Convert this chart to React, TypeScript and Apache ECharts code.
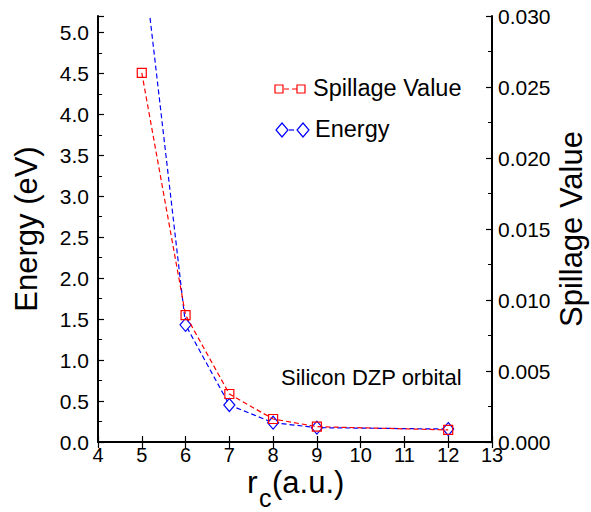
import React, { useEffect, useRef } from "react";
import * as echarts from "echarts";

const rc = [5, 6, 7, 8, 9, 12];
const energy = [6.05, 1.43, 0.452, 0.236, 0.175, 0.158];
const spillage = [0.026, 0.00894, 0.00338, 0.00162, 0.00108, 0.00085];
const legendNames = ["Spillage Value", "Energy"];
const annotation = "Silicon DZP orbital";
const xNameParts = ["r", "c", "(a.u.)"];

const FONT = "'Liberation Sans', Arial, sans-serif";
const RED = "#ff0000";
const BLUE = "#0000ff";

export default function App() {
  const ref = useRef<HTMLDivElement>(null);
  useEffect(() => {
    if (!ref.current) return;
    const chart = echarts.init(ref.current, undefined, { renderer: "svg" });
    const axisLine = { show: true, lineStyle: { color: "#000", width: 2 } };
    chart.setOption({
      animation: false,
      backgroundColor: "#fff",
      textStyle: { fontFamily: FONT },
      grid: { left: 98, top: 16, right: 99, bottom: 70, containLabel: false, outerBoundsMode: "none" },
      xAxis: [
        {
          type: "value",
          min: 4,
          max: 13,
          interval: 1,
          position: "bottom",
          axisLine,
          axisTick: { show: true, inside: true, length: 6, lineStyle: { color: "#000", width: 1.2 } },
          axisLabel: { color: "#000", fontSize: 20, lineHeight: 16, fontFamily: FONT, margin: 5 },
          splitLine: { show: false },
        },
        {
          type: "value",
          min: 4,
          max: 13,
          interval: 1,
          position: "top",
          axisLine,
          axisTick: { show: true, inside: true, length: 6, lineStyle: { color: "#000", width: 1.2 } },
          axisLabel: { show: false },
          splitLine: { show: false },
        },
      ],
      yAxis: [
        {
          type: "value",
          min: 0,
          max: 5.2,
          interval: 0.5,
          position: "left",
          axisLine,
          axisTick: { show: true, inside: true, length: 6, lineStyle: { color: "#000", width: 1.2 } },
          minorTick: { show: true, splitNumber: 2, length: 4, lineStyle: { color: "#000", width: 1 } },
          axisLabel: {
            color: "#000",
            fontSize: 21,
            fontFamily: FONT,
            margin: 9,
            showMaxLabel: false,
            formatter: (v: number) => v.toFixed(1),
          },
          splitLine: { show: false },
          name: "Energy (eV)",
          nameLocation: "middle",
          nameRotate: 90,
          nameGap: 56,
          nameMoveOverlap: false,
          nameTextStyle: { fontSize: 31, color: "#000", fontFamily: FONT },
        },
        {
          type: "value",
          min: 0,
          max: 0.03,
          interval: 0.005,
          position: "right",
          axisLine,
          axisTick: { show: true, inside: true, length: 6, lineStyle: { color: "#000", width: 1.2 } },
          minorTick: { show: true, splitNumber: 2, length: 4, lineStyle: { color: "#000", width: 1 } },
          axisLabel: {
            color: "#000",
            fontSize: 21,
            fontFamily: FONT,
            margin: 6,
            formatter: (v: number) => v.toFixed(3),
          },
          splitLine: { show: false },
          name: "Spillage Value",
          nameLocation: "middle",
          nameRotate: 90,
          nameGap: 64,
          nameMoveOverlap: false,
          nameTextStyle: { fontSize: 31, color: "#000", fontFamily: FONT },
        },
      ],
      series: [
        {
          name: legendNames[1],
          type: "line",
          xAxisIndex: 0,
          yAxisIndex: 0,
          data: rc.map((x, i) => [x, energy[i]]),
          symbol: "diamond",
          symbolSize: [11, 13],
          showAllSymbol: true,
          clip: true,
          lineStyle: { color: BLUE, width: 1.2, type: [5, 3] },
          itemStyle: { color: "#fff", borderColor: BLUE, borderWidth: 1.2 },
          z: 2,
        },
        {
          name: legendNames[0],
          type: "line",
          xAxisIndex: 0,
          yAxisIndex: 1,
          data: rc.map((x, i) => [x, spillage[i]]),
          symbol: "rect",
          symbolSize: 9,
          showAllSymbol: true,
          clip: true,
          lineStyle: { color: RED, width: 1.2, type: [5, 3] },
          itemStyle: { color: "rgba(255,255,255,0)", borderColor: RED, borderWidth: 1.2 },
          z: 3,
        },
      ],
      graphic: [
        // legend row 1
        { type: "rect", shape: { x: 275, y: 85, width: 8, height: 8 }, style: { fill: "none", stroke: RED, lineWidth: 1.2 } },
        { type: "line", shape: { x1: 284, y1: 89, x2: 297, y2: 89 }, style: { stroke: RED, lineWidth: 1.2, lineDash: [5, 3] } },
        { type: "rect", shape: { x: 297, y: 85, width: 8, height: 8 }, style: { fill: "none", stroke: RED, lineWidth: 1.2 } },
        { type: "text", left: 313, top: 76, style: { text: legendNames[0], fontSize: 23.5, fontFamily: FONT, fill: "#000" } },
        // legend row 2
        { type: "polygon", shape: { points: [[282, 123], [288, 130], [282, 137], [276, 130]] }, style: { fill: "none", stroke: BLUE, lineWidth: 1.2 } },
        { type: "line", shape: { x1: 289, y1: 130, x2: 297, y2: 130 }, style: { stroke: BLUE, lineWidth: 1.2, lineDash: [5, 3] } },
        { type: "polygon", shape: { points: [[303, 123], [309, 130], [303, 137], [297, 130]] }, style: { fill: "none", stroke: BLUE, lineWidth: 1.2 } },
        { type: "text", left: 315, top: 117, style: { text: legendNames[1], fontSize: 23.5, fontFamily: FONT, fill: "#000" } },
        // annotation
        { type: "text", left: 281, top: 366, style: { text: annotation, fontSize: 22, fontFamily: FONT, fill: "#000" } },
        // x-axis name with subscript
        { type: "text", x: 247, y: 482, style: { text: xNameParts[0], fontSize: 32, lineHeight: 24, fontFamily: FONT, fill: "#000", verticalAlign: "middle", align: "left" } },
        { type: "text", x: 259, y: 498, style: { text: xNameParts[1], fontSize: 25, lineHeight: 20, fontFamily: FONT, fill: "#000", verticalAlign: "middle", align: "left" } },
        { type: "text", x: 272, y: 482, style: { text: xNameParts[2], fontSize: 31, lineHeight: 24, fontFamily: FONT, fill: "#000", verticalAlign: "middle", align: "left" } },
      ],
    });
    return () => chart.dispose();
  }, []);
  return <div ref={ref} style={{ position: "absolute", left: 0, top: 0, width: 591, height: 512 }} />;
}
